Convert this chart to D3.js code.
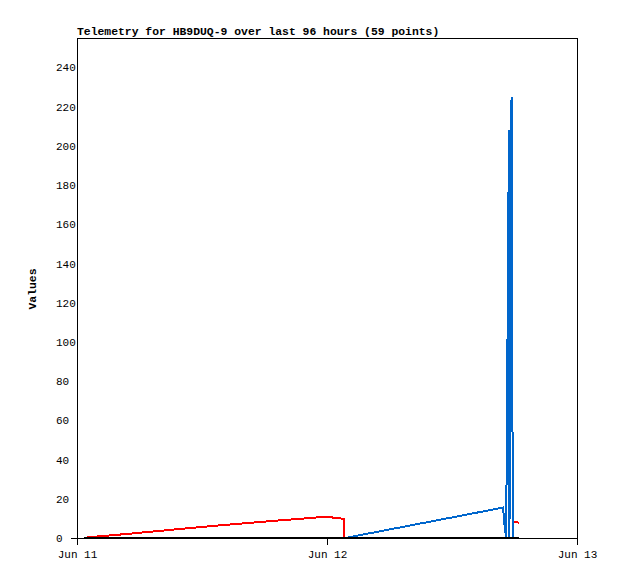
<!DOCTYPE html>
<html><head><meta charset="utf-8">
<script src="https://cdn.jsdelivr.net/npm/d3@7"></script>
<style>body{margin:0;background:#fff}svg{display:block}text{font-family:"Liberation Mono","DejaVu Sans Mono",monospace}</style>
</head><body>
<svg id="c" width="618" height="579"></svg>
<script>
const title = "Telemetry for HB9DUQ-9 over last 96 hours (59 points)";
const yLabel = "Values";
const xDomain = ["2024-06-11T00:00", "2024-06-13T00:00"];
const yTicks = [0,20,40,60,80,100,120,140,160,180,200,220,240];
const yMax = 255;

const redTimes  = ["2024-06-11T00:58","2024-06-11T05:05","2024-06-11T09:53","2024-06-11T14:41","2024-06-11T19:29","2024-06-11T21:25","2024-06-11T23:20","2024-06-12T00:17","2024-06-12T01:15","2024-06-12T01:38","2024-06-12T01:39","2024-06-12T17:50","2024-06-12T17:56","2024-06-12T18:26"];
const redValues = [0.3,2.2,4.6,6.9,9.0,9.8,10.6,10.6,10.0,9.7,0,null,8.3,7.8];

const blueTimes  = ["2024-06-12T01:44","2024-06-12T16:54","2024-06-12T17:00","2024-06-12T17:05","2024-06-12T17:12","2024-06-12T17:28","2024-06-12T17:31","2024-06-12T17:37","2024-06-12T17:43","2024-06-12T17:47","2024-06-12T17:50"];
const blueValues = [0,15.5,9,4,0.5,208,0,177,225,112,0];

const blackTimes  = ["2024-06-11T00:40","2024-06-12T18:26"];
const blackValues = [0,0];

const parse = d3.timeParse("%Y-%m-%dT%H:%M");
const svg = d3.select("#c");
const L=77, R=577, T=38, B=538;

const x = d3.scaleTime().domain(xDomain.map(parse)).range([L,R]);
const y = d3.scaleLinear().domain([0,yMax]).range([B,T]);

// frame
const g = svg.append("g").attr("shape-rendering","crispEdges");
g.append("line").attr("x1",L+0.5).attr("x2",R+0.5).attr("y1",T+0.5).attr("y2",T+0.5).attr("stroke","#000");
g.append("line").attr("x1",R+0.5).attr("x2",R+0.5).attr("y1",T).attr("y2",B).attr("stroke","#000");

// series
function series(times, values, color){
  const data = times.map((t,i)=>({t:parse(t), v:values[i]}));
  svg.append("path").datum(data)
    .attr("fill","none").attr("stroke",color).attr("stroke-width",2)
    .attr("stroke-linejoin","miter").attr("shape-rendering","crispEdges")
    .attr("d", d3.line().defined(d=>d.v!==null).x(d=>x(d.t)).y(d=>y(d.v)));
}
series(redTimes, redValues, "#ff0000");
series(blueTimes, blueValues, "#0066cc");
series(blackTimes, blackValues, "#000000");

// axes
const xAxis = d3.axisBottom(x).ticks(d3.timeDay.every(1)).tickFormat(d3.timeFormat("%b %d")).tickSizeInner(7).tickSizeOuter(0).tickPadding(5);
const gx = svg.append("g").attr("transform",`translate(0,${B})`).attr("shape-rendering","crispEdges").call(xAxis);
gx.select(".domain").remove();
gx.append("line").attr("x1",L-6).attr("x2",R+1).attr("y1",0.5).attr("y2",0.5).attr("stroke","#000");
gx.selectAll("text").attr("font-size",11).attr("fill","#000");

const yAxis = d3.axisLeft(y).tickValues(yTicks).tickSize(0).tickFormat(d3.format("d"));
const gy = svg.append("g").attr("transform",`translate(${L},0)`).attr("shape-rendering","crispEdges").call(yAxis);
gy.select(".domain").remove();
gy.append("line").attr("x1",0.5).attr("x2",0.5).attr("y1",T).attr("y2",B+7).attr("stroke","#000");
gy.selectAll("text").attr("font-size",11).attr("fill","#000").attr("text-anchor","start").attr("x",-21);

// title & labels
svg.append("text").attr("x",L).attr("y",35).attr("font-size",11.4).attr("font-weight","bold").text(title);
svg.append("text").attr("transform","translate(36,289) rotate(-90)").attr("text-anchor","middle").attr("font-size",11.4).attr("font-weight","bold").text(yLabel);
</script>
</body></html>
